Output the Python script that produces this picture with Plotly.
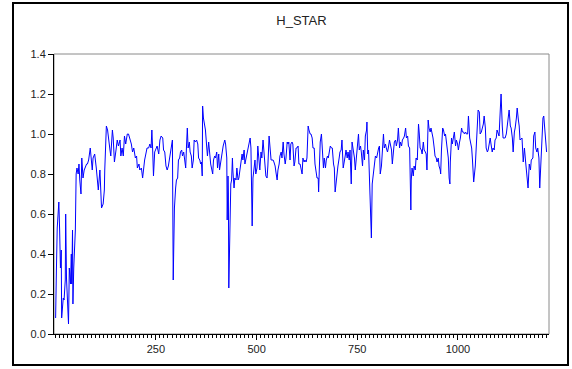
import plotly.graph_objects as go

obs = [
    1, 2, 3, 5, 7, 9, 11, 13, 15, 16, 20, 22, 25, 26, 28, 30, 33, 35, 38, 40, 41, 43, 44, 46, 48, 50,
    52, 54, 57, 59, 61, 64, 66, 69, 72, 74, 78, 80, 83, 87, 89, 92, 94, 98, 102, 107, 111, 115, 119,
    122, 123, 125, 127, 130, 134,
    136, 138, 142, 144, 147, 151, 154, 157, 161, 163, 166, 169, 172, 175, 179, 182, 185, 189, 192,
    195, 199, 202, 204, 208, 210, 214, 217, 219, 222, 225, 228, 232, 235, 238, 240, 242, 244, 247,
    250, 253, 257, 260, 263, 267, 269, 272, 275, 278, 281, 283, 286, 288, 291,
    293, 295, 296, 299, 301, 304, 306, 309, 311, 314, 316, 319, 321, 324, 326, 328, 330, 333, 335,
    338, 340, 343, 345, 348, 351, 354, 356, 359, 361, 363, 365, 366, 368, 371, 373, 376, 378, 381,
    383, 386, 388, 391, 393, 396, 398, 401, 403, 406, 408, 411, 414, 417, 421, 423, 426, 427, 429,
    430, 431, 433,
    436, 438, 440, 441, 444, 446, 449, 451, 454, 456, 459, 461, 464, 466, 469, 471, 474, 476, 479,
    481, 484, 486, 488, 489, 491, 494, 496, 498, 501, 503, 506, 508, 511, 513, 516, 518, 521, 523,
    526, 528, 531, 533, 536, 538, 541, 543, 546, 548, 551, 553, 556, 558, 561, 563, 566, 568, 571,
    573, 576, 578, 580,
    583, 585, 588, 590, 593, 595, 598, 600, 603, 605, 608, 610, 613, 615, 618, 620, 623, 625, 628,
    630, 633, 635, 638, 640, 643, 645, 648, 650, 653, 654, 656, 658, 661, 663, 666, 668, 671, 673,
    676, 678, 681, 683, 686, 688, 691, 693, 695, 697, 700, 702, 705, 707, 710, 712, 715, 717, 720,
    722, 725, 727, 730,
    732, 735, 737, 740, 743, 745, 748, 750, 753, 755, 758, 760, 763, 765, 768, 770, 773, 774, 776,
    778, 780, 782, 783, 785, 787, 788, 790, 793, 795, 798, 800, 803, 805, 807, 810, 812, 815, 817,
    820, 822, 825, 827, 830, 832, 835, 837, 840, 842, 845, 847, 850, 852, 855, 857, 860, 862, 865,
    867, 870, 872, 875, 877, 880, 881, 883, 884,
    886, 889, 891, 894, 896, 899, 900, 902, 904, 906, 909, 911, 914, 916, 919, 921, 923, 924, 926,
    928, 931, 933, 936, 938, 941, 943, 946, 948, 951, 953, 956, 957, 959, 962, 964, 967, 969, 971,
    974, 976, 978, 980, 981, 984, 986, 989, 991, 994, 996, 999, 1001, 1004, 1006, 1009, 1011, 1014,
    1016, 1019, 1021, 1024, 1026, 1029, 1031, 1034, 1036, 1038, 1039,
    1043, 1045, 1048, 1050, 1053, 1055, 1058, 1060, 1063, 1065, 1068, 1070, 1073, 1075, 1078, 1080,
    1082, 1085, 1087, 1090, 1092, 1095, 1097, 1100, 1102, 1105, 1107, 1110, 1112, 1115, 1117, 1120,
    1122, 1125, 1127, 1130, 1132, 1135, 1137, 1140, 1142, 1145, 1147, 1150, 1152,
    1154, 1159, 1162, 1165, 1168, 1171, 1174, 1177, 1180, 1182, 1186, 1188, 1191, 1193, 1196, 1198,
    1201, 1203, 1206, 1208, 1211, 1213, 1216, 1219, 1220,
]

h_star = [
    0.08, 0.15, 0.32, 0.53, 0.62, 0.66, 0.52, 0.33, 0.42, 0.08, 0.18, 0.17, 0.27, 0.60, 0.28, 0.15,
    0.05, 0.33, 0.25, 0.40, 0.25, 0.52, 0.15, 0.33, 0.42, 0.52,
    0.80, 0.83, 0.80, 0.85, 0.77, 0.70, 0.88, 0.78, 0.82, 0.83, 0.85, 0.85, 0.87, 0.93, 0.88, 0.82,
    0.88, 0.90, 0.83, 0.72, 0.82, 0.63, 0.65, 0.72, 0.82, 1.00, 1.04, 1.02, 0.93,
    0.92, 0.89, 1.02, 0.98, 0.86, 0.92, 0.97, 0.94, 0.97, 0.89, 0.93, 0.89, 0.99, 0.95, 1.00, 1.00,
    0.98, 0.95, 0.91, 0.93, 0.88, 0.89, 0.83, 0.85, 0.82, 0.83, 0.78, 0.83, 0.87, 0.90, 0.93, 0.93,
    0.95, 0.93, 1.02, 0.92, 0.79, 0.91, 0.93, 0.94, 0.90, 0.97, 0.99, 0.98, 0.92, 0.91, 0.84, 0.82,
    0.84, 0.87, 0.89, 0.94, 0.97,
    0.27, 0.55, 0.63, 0.73, 0.77, 0.78, 0.87, 0.88, 0.91, 0.92, 0.89, 0.91, 0.87, 0.83, 0.94, 1.03,
    0.93, 0.96, 0.91, 0.89, 0.83, 0.87, 0.97, 0.96, 0.97, 0.95, 0.88, 0.87, 0.85, 0.86, 0.79, 1.14,
    1.08, 1.05, 1.02, 0.94, 0.89, 0.96, 0.89, 0.85, 0.83, 0.80, 0.87, 0.89, 0.88, 0.91, 0.83, 0.90,
    0.82, 0.87, 0.91, 0.94, 0.97, 0.95, 0.88, 0.57, 0.79, 0.70, 0.23, 0.45,
    0.75, 0.77, 0.88, 0.82, 0.73, 0.78, 0.77, 0.83, 0.77, 0.78, 0.83, 0.85, 0.90, 0.87, 0.92, 0.85,
    0.88, 0.91, 0.93, 0.96, 0.98, 0.93, 0.70, 0.54, 0.78, 0.83, 0.87, 0.80, 0.83, 0.94, 0.88, 0.82,
    0.91, 0.88, 0.97, 0.91, 0.85, 0.79, 0.78, 0.84, 0.99, 0.93, 0.87, 0.87, 0.87, 0.86, 0.84, 0.81,
    0.77, 0.82, 0.85, 0.89, 0.91, 0.88, 0.96, 0.90, 0.85, 0.88, 0.96, 0.95, 0.96,
    0.87, 0.95, 0.96, 0.95, 0.84, 0.86, 0.93, 0.93, 0.94, 0.85, 0.85, 0.83, 0.80, 0.88, 0.86, 0.87,
    0.86, 0.88, 1.04, 1.02, 1.00, 1.00, 0.98, 0.93, 0.93, 0.85, 0.79, 0.78, 0.78, 0.71, 0.84, 0.96,
    1.00, 0.95, 0.83, 0.88, 0.83, 0.87, 0.89, 0.88, 0.93, 0.94, 0.93, 0.93, 0.85, 0.83, 0.71, 0.75,
    0.82, 0.84, 0.88, 0.91, 0.92, 0.97, 0.83, 0.85, 0.89, 0.92, 0.88, 0.91, 0.87,
    0.92, 0.75, 0.96, 0.92, 0.88, 0.82, 0.89, 0.93, 1.00, 0.92, 0.94, 0.91, 0.84, 0.92, 0.87, 0.99,
    1.02, 1.06, 0.90, 0.92, 0.80, 0.77, 0.65, 0.48, 0.75, 0.77, 0.82, 0.88, 0.89, 0.88, 0.91, 0.93,
    0.94, 0.80, 0.84, 0.89, 1.00, 0.93, 0.95, 0.93, 0.91, 0.93, 0.97, 0.95, 0.92, 0.85, 0.92, 0.96,
    0.97, 0.94, 0.97, 1.03, 0.93, 0.96, 0.94, 0.97, 0.98, 0.99, 1.03, 0.98, 0.99, 0.94, 0.93, 0.73,
    0.62, 0.77,
    0.83, 0.79, 0.84, 0.82, 0.88, 0.87, 0.97, 1.05, 1.00, 0.93, 0.92, 0.90, 0.96, 0.92, 0.91, 0.90,
    0.82, 0.93, 1.07, 1.03, 1.01, 1.03, 1.00, 0.98, 0.93, 0.89, 0.88, 0.86, 0.88, 0.84, 0.82, 0.80,
    0.92, 1.03, 1.02, 0.99, 1.00, 0.97, 0.93, 0.88, 0.78, 0.75, 0.86, 0.98, 0.95, 0.99, 1.01, 0.94,
    0.97, 0.95, 0.92, 0.96, 0.98, 1.03, 1.01, 1.01, 1.00, 1.01, 1.00, 1.00, 1.09, 0.98, 0.96, 0.93,
    0.87, 0.77, 0.76,
    0.84, 0.92, 1.00, 1.12, 1.11, 1.00, 1.01, 1.03, 1.05, 1.09, 1.03, 0.93, 0.91, 0.92, 0.95, 0.98,
    0.95, 0.91, 0.93, 0.92, 0.97, 0.98, 1.02, 1.00, 0.99, 1.12, 1.20, 1.04, 0.98, 0.98, 0.98, 1.00,
    1.03, 1.10, 1.12, 1.04, 1.03, 0.98, 0.91, 1.01, 1.03, 1.08, 1.13, 1.07, 1.04,
    0.97, 0.98, 0.86, 0.93, 0.86, 0.77, 0.73, 0.85, 0.82, 0.87, 0.88, 0.99, 1.01, 0.93, 0.91, 0.93,
    0.88, 0.73, 0.88, 0.98, 1.08, 1.09, 1.02, 0.93, 0.91,
]

x_ticks = [250, 500, 750, 1000]
y_ticks = [0.0, 0.2, 0.4, 0.6, 0.8, 1.0, 1.2, 1.4]
y_labels = ["0.0", "0.2", "0.4", "0.6", "0.8", "1.0", "1.2", "1.4"]

fig = go.Figure()
fig.add_trace(go.Scatter(x=obs, y=h_star, mode="lines",
                         line=dict(color="#0000FF", width=1), showlegend=False))

W, H = 572, 369
L, R, T, B = 54, 23, 54, 35
pw, ph = W - L - R, H - T - B

def px_x(p):
    return (p - L) / pw

def px_y(p):
    return (H - B - p) / ph

fig.update_layout(
    width=W, height=H,
    margin=dict(l=L, r=R, t=T, b=B, pad=0),
    paper_bgcolor="white", plot_bgcolor="white",
    font=dict(family="Liberation Sans, Arial, sans-serif", size=11, color="#222222"),
    title=dict(text="H_STAR", x=px_x(301.5), xref="paper", y=1 - 20 / H,
               yref="container", xanchor="center", yanchor="middle",
               font=dict(size=13, color="#222222")),
    xaxis=dict(range=[-3, 1226], tickmode="array", tickvals=x_ticks,
               ticktext=[str(v) for v in x_ticks],
               ticks="outside", ticklen=5, tickwidth=1, tickcolor="black",
               showline=True, linecolor="black", linewidth=1,
               showgrid=False, zeroline=False,
               minor=dict(tickmode="linear", tick0=0, dtick=10, ticks="outside",
                          ticklen=3, tickcolor="black", tickwidth=1, showgrid=False)),
    yaxis=dict(range=[0, 1.4], tickmode="array", tickvals=y_ticks, ticktext=y_labels,
               ticks="outside", ticklen=5, tickwidth=1, tickcolor="black",
               showline=True, linecolor="black", linewidth=1,
               showgrid=False, zeroline=False),
    shapes=[
        # gray plot frame (top/right)
        dict(type="rect", xref="paper", yref="paper", x0=0, x1=1, y0=0, y1=1,
             line=dict(color="#8a8a8a", width=1), layer="below"),
        # outer black frame
        dict(type="rect", xref="paper", yref="paper",
             x0=px_x(13), x1=px_x(568), y0=px_y(365), y1=px_y(3),
             line=dict(color="black", width=2), layer="above"),
    ],
)

fig.write_html("out.html")
